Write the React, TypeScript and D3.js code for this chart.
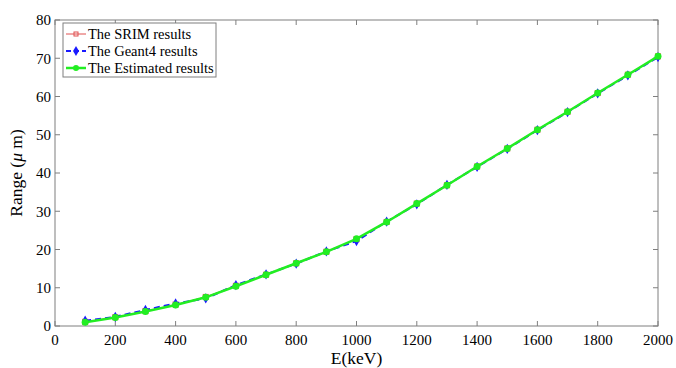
import React from 'react';
import * as d3 from 'd3';

// energies (keV)
const energy = [100, 200, 300, 400, 500, 600, 700, 800, 900, 1000, 1100, 1200, 1300, 1400, 1500, 1600, 1700, 1800, 1900, 2000];
// ranges (um)
const srim = [1.1, 2.3, 3.9, 5.6, 7.6, 10.5, 13.4, 16.4, 19.4, 22.7, 27.2, 32.0, 36.8, 41.7, 46.4, 51.3, 56.0, 60.9, 65.7, 70.5];
const geant4 = [1.4, 2.4, 4.2, 5.9, 7.2, 10.7, 13.5, 16.3, 19.5, 22.2, 27.3, 31.8, 36.9, 41.6, 46.3, 51.2, 55.9, 60.8, 65.5, 70.3];
const estimated = [1.0, 2.2, 3.8, 5.5, 7.5, 10.4, 13.4, 16.4, 19.4, 22.8, 27.2, 32.0, 36.8, 41.7, 46.4, 51.3, 56.0, 60.9, 65.7, 70.5];

const xTicks = d3.range(0, 2001, 200);
const yTicks = d3.range(0, 81, 10);
const legendLabels = ['The SRIM results', 'The Geant4 results', 'The Estimated results'];

const W = 676, H = 368;
const margin = { top: 20, right: 18, bottom: 42, left: 55 };
const FONT = '"Liberation Serif", "Times New Roman", serif';
const AXIS = '#7f7f7f';

export default function App() {
  const x = d3.scaleLinear().domain([0, 2000]).range([margin.left, W - margin.right]);
  const y = d3.scaleLinear().domain([0, 80]).range([H - margin.bottom, margin.top]);
  const line = (vals: number[]) =>
    d3.line<number>().x((d, i) => x(energy[i])).y(d => y(d))(vals) || '';

  const x0 = x(0), x1 = x(2000), y0 = y(0), y1 = y(80);
  const diamond = d3.symbol().type(d3.symbolDiamond).size(30)() || '';

  const lx = 63, ly = 23, lw = 153, lh = 54;

  return (
    <svg width={W} height={H} style={{ position: 'absolute', left: 0, top: 0, background: '#fff' }}>
      <rect x={0} y={0} width={W} height={H} fill="#fff" />
      {/* ticks */}
      {xTicks.map(t => (
        <g key={'xt' + t}>
          <line x1={x(t)} x2={x(t)} y1={y0} y2={y0 - 5} stroke={AXIS} />
          <line x1={x(t)} x2={x(t)} y1={y1} y2={y1 + 5} stroke={AXIS} />
          <text x={x(t)} y={y0 + 19} textAnchor="middle" fontFamily={FONT} fontSize={15}>{t}</text>
        </g>
      ))}
      {yTicks.map(t => (
        <g key={'yt' + t}>
          <line x1={x0} x2={x0 + 5} y1={y(t)} y2={y(t)} stroke={AXIS} />
          <line x1={x1} x2={x1 - 5} y1={y(t)} y2={y(t)} stroke={AXIS} />
          <text x={x0 - 4} y={y(t)} dy="0.35em" textAnchor="end" fontFamily={FONT} fontSize={15}>{t}</text>
        </g>
      ))}
      <rect x={x0} y={y1} width={x1 - x0} height={y0 - y1} fill="none" stroke={AXIS} strokeWidth={1} />

      {/* SRIM */}
      <path d={line(srim)} fill="none" stroke="#e05050" strokeWidth={1} />
      {srim.map((v, i) => (
        <rect key={'s' + i} x={x(energy[i]) - 2.5} y={y(v) - 2.5} width={5} height={5} fill="none" stroke="#e05050" strokeWidth={1} />
      ))}
      {/* Geant4 */}
      <path d={line(geant4)} fill="none" stroke="#1a1aff" strokeWidth={2} strokeDasharray="6,4" />
      {geant4.map((v, i) => (
        <path key={'g' + i} d={diamond} transform={`translate(${x(energy[i])},${y(v)})`} fill="#1a1aff" />
      ))}
      {/* Estimated */}
      <path d={line(estimated)} fill="none" stroke="#22ee22" strokeWidth={2.5} />
      {estimated.map((v, i) => (
        <circle key={'e' + i} cx={x(energy[i])} cy={y(v)} r={3.5} fill="#22ee22" />
      ))}

      {/* legend */}
      <rect x={lx} y={ly} width={lw} height={lh} fill="#fff" stroke={AXIS} strokeWidth={1} />
      {legendLabels.map((lab, i) => {
        const cy = ly + 11 + i * 17;
        return (
          <g key={lab}>
            {i === 0 && (
              <g>
                <line x1={lx + 3} x2={lx + 23} y1={cy} y2={cy} stroke="#e05050" strokeWidth={1} />
                <rect x={lx + 11} y={cy - 2} width={4} height={4} fill="none" stroke="#e05050" />
              </g>
            )}
            {i === 1 && (
              <g>
                <line x1={lx + 3} x2={lx + 23} y1={cy} y2={cy} stroke="#1a1aff" strokeWidth={2} strokeDasharray="5,3" />
                <path d={diamond} transform={`translate(${lx + 13},${cy})`} fill="#1a1aff" />
              </g>
            )}
            {i === 2 && (
              <g>
                <line x1={lx + 3} x2={lx + 23} y1={cy} y2={cy} stroke="#22ee22" strokeWidth={2.5} />
                <circle cx={lx + 13} cy={cy} r={3} fill="#22ee22" />
              </g>
            )}
            <text x={lx + 25} y={cy} dy="0.35em" fontFamily={FONT} fontSize={14.5}>{lab}</text>
          </g>
        );
      })}

      {/* axis titles */}
      <text x={(x0 + x1) / 2} y={H - 4} textAnchor="middle" fontFamily={FONT} fontSize={17.5}>E(keV)</text>
      <text transform={`translate(22,${(y0 + y1) / 2}) rotate(-90)`} textAnchor="middle" fontFamily={FONT} fontSize={17.5}>
        Range (<tspan fontStyle="italic">μ</tspan> m)
      </text>
    </svg>
  );
}
